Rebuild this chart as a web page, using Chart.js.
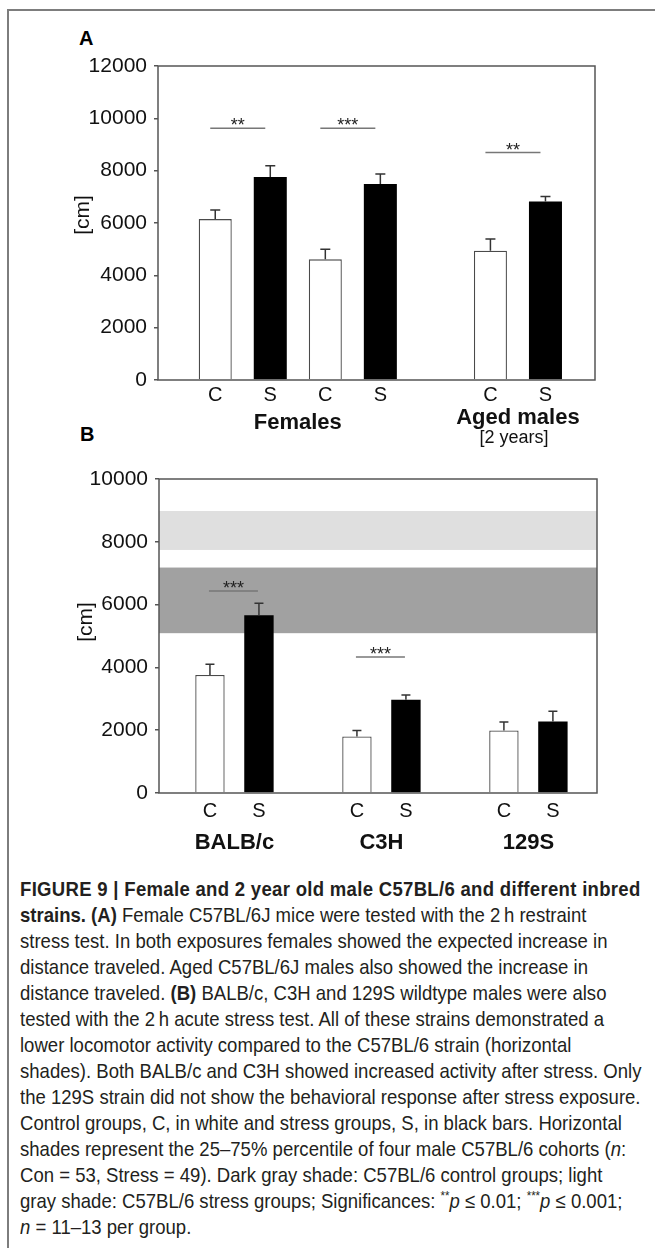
<!DOCTYPE html>
<html>
<head>
<meta charset="utf-8">
<script src="https://cdn.jsdelivr.net/npm/chart.js@4.4.1/dist/chart.umd.min.js"></script>
<style>
  html, body { margin: 0; padding: 0; background: #fff; }
  body { width: 655px; height: 1248px; position: relative; overflow: hidden; font-family: "Liberation Sans", Arial, sans-serif; }
  .frame { position: absolute; left: 7px; top: 9px; right: -10px; bottom: -10px; border-top: 2px solid #7d7d7d; border-left: 2px solid #7d7d7d; }
  .panel { position: absolute; font-weight: bold; font-size: 20px; line-height: 20px; color: #000; }
  .wrap { position: absolute; left: 0; width: 655px; }
  #wrapA { top: 0; height: 455px; }
  #wrapB { top: 455px; height: 410px; }
  /* no narrow face installed, so squeeze the regular one */
  .caption { position: absolute; left: 20px; top: 876px; font-size: 21px; line-height: 26px; color: #231f20; white-space: nowrap; transform: scaleX(0.883); transform-origin: 0 0; }
  .caption .head { letter-spacing: 0.34px; }
  .caption sup { font-size: 13px; line-height: 0; }
</style>
</head>
<body>
<div class="frame"></div>
<div class="panel" style="left:79px; top:28px;">A</div>
<div class="panel" style="left:80px; top:424px;">B</div>
<div class="wrap" id="wrapA"><canvas id="chartA"></canvas></div>
<div class="wrap" id="wrapB"><canvas id="chartB"></canvas></div>

<div class="caption">
  <b class="head">FIGURE 9 | Female and 2 year old male C57BL/6 and different inbred</b><br>
  <b>strains. (A)</b> Female C57BL/6J mice were tested with the 2&#8201;h restraint<br>
  stress test. In both exposures females showed the expected increase in<br>
  distance traveled. Aged C57BL/6J males also showed the increase in<br>
  distance traveled. <b>(B)</b> BALB/c, C3H and 129S wildtype males were also<br>
  tested with the 2&#8201;h acute stress test. All of these strains demonstrated a<br>
  lower locomotor activity compared to the C57BL/6 strain (horizontal<br>
  shades). Both BALB/c and C3H showed increased activity after stress. Only<br>
  the 129S strain did not show the behavioral response after stress exposure.<br>
  Control groups, C, in white and stress groups, S, in black bars. Horizontal<br>
  shades represent the 25–75% percentile of four male C57BL/6 cohorts (<i>n</i>:<br>
  Con = 53, Stress = 49). Dark gray shade: C57BL/6 control groups; light<br>
  gray shade: C57BL/6 stress groups; Significances: <sup>**</sup><i>p</i> ≤ 0.01; <sup>***</sup><i>p</i> ≤ 0.001;<br>
  <i>n</i> = 11–13 per group.
</div>

<script>
// Panel A - females and aged males, distance traveled [cm]
const slotsA = ['C', 'S', 'C', 'S', '', 'C', 'S'];
const groupsA = ['Females', 'Females', 'Females', 'Females', '', 'Aged males', 'Aged males'];
const subGroupsA = ['', '', '', '', '', '[2 years]', '[2 years]'];
const valuesA = [6150, 7760, 4610, 7490, null, 4940, 6820];
const errorsA = [350, 430, 390, 380, null, 450, 190];
const sigA = [['**', 0, 1, 9620], ['***', 2, 3, 9620], ['**', 5, 6, 8690]];
const ticksA = [0, 2000, 4000, 6000, 8000, 10000, 12000];

// Panel B - inbred strains
const slotsB = ['C', 'S', '', 'C', 'S', '', 'C', 'S'];
const groupsB = ['BALB/c', 'BALB/c', '', 'C3H', 'C3H', '', '129S', '129S'];
const subGroupsB = ['', '', '', '', '', '', '', ''];
const valuesB = [3760, 5660, null, 1800, 2970, null, 1990, 2280];
const errorsB = [340, 380, null, 190, 150, null, 270, 320];
const sigB = [['***', 0, 1, 6430], ['***', 3, 4, 4330]];
const ticksB = [0, 2000, 4000, 6000, 8000, 10000];

// 25-75% percentile of the C57BL/6 cohorts (horizontal shades)
const shadeControl = [5090, 7180];
const shadeStress = [7740, 8980];

const FONT = '"Liberation Sans", Arial, sans-serif';

// pick the bars of one kind (C or S) out of the slot list
function seriesFor(slots, values, errors, kind) {
  const data = [];
  const errs = [];
  slots.forEach((s, i) => {
    if (s === kind && values[i] != null) {
      data.push({ x: i + 1, y: values[i] });
      errs.push(errors[i]);
    }
  });
  return { data, errs };
}

// errors, significance bars, shades, frame and group labels
function extras(p) {
  return {
    id: 'extras',
    beforeDatasetsDraw(chart) {
      const { ctx, chartArea: a, scales: { y } } = chart;
      (p.shades || []).forEach(([range, color]) => {
        const top = y.getPixelForValue(range[1]);
        const bottom = y.getPixelForValue(range[0]);
        ctx.save();
        ctx.fillStyle = color;
        ctx.fillRect(a.left, top, a.width, bottom - top);
        ctx.restore();
      });
    },
    afterDatasetsDraw(chart) {
      const { ctx, scales: { x, y } } = chart;
      ctx.save();
      ctx.strokeStyle = '#333';
      ctx.lineWidth = 1.5;
      chart.data.datasets.forEach((ds, d) => {
        chart.getDatasetMeta(d).data.forEach((bar, i) => {
          const top = y.getPixelForValue(ds.data[i].y + ds.errors[i]);
          ctx.beginPath();
          ctx.moveTo(bar.x, bar.y);
          ctx.lineTo(bar.x, top);
          ctx.moveTo(bar.x - p.cap, top);
          ctx.lineTo(bar.x + p.cap, top);
          ctx.stroke();
        });
      });

      p.sig.forEach(([stars, from, to, level]) => {
        const x1 = x.getPixelForValue(from + 1) + p.sigShift;
        const x2 = x.getPixelForValue(to + 1) + p.sigShift;
        const yy = y.getPixelForValue(level);
        ctx.strokeStyle = '#777';
        ctx.lineWidth = 1.5;
        ctx.beginPath();
        ctx.moveTo(x1, yy);
        ctx.lineTo(x2, yy);
        ctx.stroke();
        ctx.fillStyle = '#222';
        ctx.font = '18px ' + FONT;
        ctx.textAlign = 'center';
        ctx.textBaseline = 'alphabetic';
        ctx.fillText(stars, (x1 + x2) / 2, yy + 3);
      });
      ctx.restore();
    },
    afterDraw(chart) {
      const { ctx, chartArea: a, scales: { x } } = chart;
      ctx.save();
      ctx.strokeStyle = '#555';
      ctx.lineWidth = 1.5;
      ctx.strokeRect(a.left, a.top, a.width, a.height);

      // group names under the C/S letters
      const spans = {};
      p.groups.forEach((g, i) => {
        if (!g) return;
        (spans[g] = spans[g] || []).push(i);
      });
      ctx.fillStyle = '#111';
      ctx.textAlign = 'center';
      ctx.textBaseline = 'alphabetic';
      Object.keys(spans).forEach(g => {
        const idx = spans[g];
        const cx = (x.getPixelForValue(idx[0] + 1) + x.getPixelForValue(idx[idx.length - 1] + 1)) / 2;
        const sub = p.subGroups[idx[0]];
        ctx.font = 'bold 22px ' + FONT;
        ctx.fillText(g, cx, a.bottom + (sub ? p.groupY - 5 : p.groupY));
        if (sub) {
          ctx.font = '18px ' + FONT;
          ctx.fillText(sub, cx - 4, a.bottom + p.groupY + 14);
        }
      });

      // y axis title
      ctx.translate(a.left + p.titleDx, (a.top + a.bottom) / 2 + p.titleDy);
      ctx.rotate(-Math.PI / 2);
      ctx.font = '21px ' + FONT;
      ctx.textBaseline = 'middle';
      ctx.fillText('[cm]', 0, 0);
      ctx.restore();
    }
  };
}

function drawPanel(id, p) {
  const ctrl = seriesFor(p.slots, p.values, p.errors, 'C');
  const stress = seriesFor(p.slots, p.values, p.errors, 'S');
  return new Chart(document.getElementById(id), {
    type: 'bar',
    data: {
      datasets: [
        { label: 'Control', data: ctrl.data, errors: ctrl.errs, backgroundColor: '#fff', borderColor: '#4a4a4a', borderWidth: 1.3 },
        { label: 'Stress', data: stress.data, errors: stress.errs, backgroundColor: '#000', borderColor: '#000', borderWidth: 0 }
      ]
    },
    options: {
      animation: false,
      responsive: true,
      maintainAspectRatio: false,
      events: [],
      layout: { padding: p.padding },
      datasets: { bar: { grouped: false, categoryPercentage: 1, barPercentage: 0.6 } },
      plugins: { legend: { display: false }, tooltip: { enabled: false } },
      scales: {
        x: {
          type: 'linear',
          offset: false,
          min: -0.04,
          max: p.slots.length + 0.9,
          grid: { display: false, drawTicks: false },
          border: { display: false },
          afterBuildTicks: sc => { sc.ticks = p.slots.map((_, i) => ({ value: i + 1 })); },
          afterFit: sc => { sc.height = p.xHeight; },
          ticks: {
            autoSkip: false,
            maxRotation: 0,
            padding: p.xPad,
            color: '#111',
            font: { family: FONT, size: 20 },
            callback: v => p.slots[v - 1] || ''
          }
        },
        y: {
          min: p.ticks[0],
          max: p.ticks[p.ticks.length - 1],
          afterBuildTicks: sc => { sc.ticks = p.ticks.map(v => ({ value: v })); },
          afterFit: sc => { sc.width = p.yWidth; },
          grid: { drawOnChartArea: false, drawTicks: true, tickLength: 4, color: '#555', lineWidth: 1.5 },
          border: { display: false },
          ticks: { padding: 7, color: '#111', font: { family: FONT, size: 21 }, callback: v => String(v) }
        }
      }
    },
    plugins: [extras(p)]
  });
}

drawPanel('chartA', {
  slots: slotsA, groups: groupsA, subGroups: subGroupsA,
  values: valuesA, errors: errorsA, sig: sigA, ticks: ticksA,
  padding: { left: 0, right: 60, top: 66, bottom: 0 },
  yWidth: 158, xHeight: 75, xPad: 3,
  cap: 5, sigShift: -5, groupY: 49, titleDx: -75, titleDy: -8
});

drawPanel('chartB', {
  slots: slotsB, groups: groupsB, subGroups: subGroupsB,
  values: valuesB, errors: errorsB, sig: sigB, ticks: ticksB,
  shades: [[shadeControl, '#a1a1a1'], [shadeStress, '#dfdfdf']],
  padding: { left: 0, right: 58, top: 24, bottom: 0 },
  yWidth: 159, xHeight: 72, xPad: 6,
  cap: 4.5, sigShift: -1, groupY: 56, titleDx: -73, titleDy: -14
});
</script>
</body>
</html>
